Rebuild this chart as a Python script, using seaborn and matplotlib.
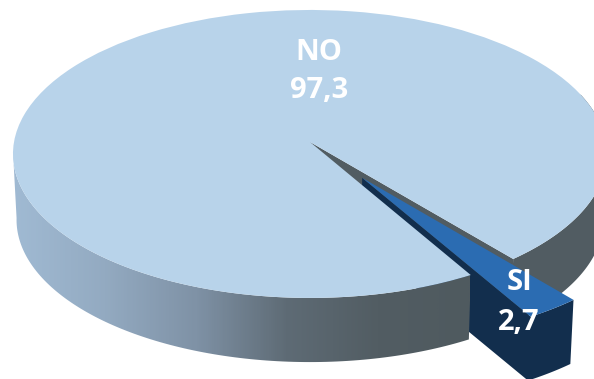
""" Exploded 3D style pie chart, NO / SI.
"""
import numpy as np
import seaborn as sns
from matplotlib import pyplot as plt
from matplotlib.patches import Polygon
from matplotlib.transforms import Transform

labels = ["NO", "SI"]
values = [97.3, 2.7]
value_labels = ["97,3", "2,7"]

top_colors = ["#b8d3ea", "#2b6cb2"]
wall_color = "#515c62"
si_wall_color = "#122e4d"
wall_gradient = ["#a0bad3", "#93aac1", "#7f92a6", "#5e6b75", "#525d63", "#4f5a5f"]

start_angle = -50
explode = 0.3

# projection of the unit disc to image pixels
CX, CY, RX, RY, K, DEPTH, SHRINK = 310, 142, 296, 143, 0.083, 66, 0.012


def project(u, v, z=0.0):
    p = 1 / (1 + K * v)
    s = 1 - SHRINK * z
    return np.column_stack((CX + RX * u * p * s, CY - RY * v * p * s + DEPTH * z))


class Persp(Transform):
    input_dims = 2
    output_dims = 2

    def transform_non_affine(self, values):
        values = np.asarray(values)
        return project(values[:, 0], values[:, 1])


def rim(a0, a1, z, offset=(0, 0)):
    t = np.radians(np.linspace(a0, a1, 120))
    return project(np.cos(t) + offset[0], np.sin(t) + offset[1], z)


sns.set_theme(style="white")
plt.rcParams["font.family"] = ["Open Sans", "DejaVu Sans"]

fig = plt.figure(figsize=(5.94, 3.79), dpi=100)
ax = fig.add_axes([0, 0, 1, 1])

wedges, _ = ax.pie(values, colors=top_colors, startangle=start_angle,
                   explode=[0, explode], counterclock=True, normalize=True)
persp = Persp()
for w, z in zip(wedges, [5, 3]):
    w.set_transform(persp + ax.transData)
    w.set_zorder(z)
    w.set_linewidth(0)

cut = start_angle + values[0] / sum(values) * 360
end = cut + 360 * values[1] / sum(values)
mid = np.radians((cut + end) / 2)
off = (explode * np.cos(mid), explode * np.sin(mid))

# right side wall of NO, seen behind the SI slice
right = np.vstack((rim(start_angle, 20, 0), rim(20, start_angle, 1)))
ax.add_patch(Polygon(right, fc=wall_color, ec="none", zorder=1))

# cut face of NO along the notch
a = np.radians(start_angle)
notch = np.vstack((project(np.array([0, np.cos(a)]), np.array([0, np.sin(a)])),
                   project(np.array([np.cos(a), 0]), np.array([np.sin(a), 0]), 1)))
ax.add_patch(Polygon(notch, fc=wall_color, ec="none", zorder=1.5))

# SI walls
tip_top = project(np.array([off[0]]), np.array([off[1]]))
tip_low = project(np.array([off[0]]), np.array([off[1]]), 1)
si_poly = np.vstack((tip_top, tip_low, rim(cut - 360, end - 360, 1, off),
                     rim(end - 360, cut - 360, 0, off)))
ax.add_patch(Polygon(si_poly, fc=si_wall_color, ec="none", zorder=2))

# front wall of NO with horizontal gradient
front = np.vstack((rim(184, cut, 0), rim(cut, 184, 1)))
clip = Polygon(front, transform=ax.transData, fc="none", ec="none")
ax.add_patch(clip)
cmap = sns.blend_palette(wall_gradient, as_cmap=True)
im = ax.imshow(np.linspace(0, 1, 300)[None, :], cmap=cmap, aspect="auto",
               extent=[13, 470, 379, 100], zorder=4)
im.set_clip_path(clip)

for x, y, s in [(319, 52, labels[0]), (319, 90, value_labels[0]),
                (520, 283, labels[1]), (519, 322, value_labels[1])]:
    ax.text(x, y, s, color="white", weight="bold", fontsize=21,
            ha="center", va="center", zorder=6)

ax.set_aspect("auto")
ax.set_xlim(0, 594)
ax.set_ylim(379, 0)
ax.axis("off")
fig.savefig("out.png", dpi=100)
